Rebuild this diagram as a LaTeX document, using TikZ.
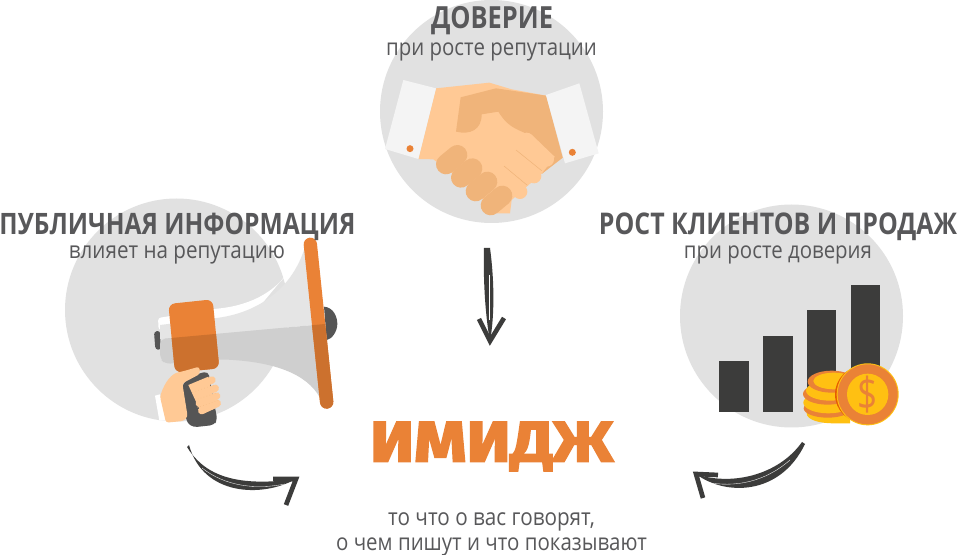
\documentclass[tikz,border=0pt]{standalone}
\usepackage{fontspec}
\setmainfont{Open Sans}
\newfontfamily\imgfont[BoldFeatures={FakeBold=3}]{Fira Sans}
\definecolor{disc}{HTML}{E1E1E1}
\definecolor{txt}{HTML}{58585A}
\definecolor{org}{HTML}{EA8236}
\definecolor{orgd}{HTML}{CC712E}
\definecolor{skin}{HTML}{FFC995}
\definecolor{skind}{HTML}{F0B47A}
\definecolor{cuff}{HTML}{F4F4F4}
\definecolor{ink}{HTML}{3C3C3B}
\definecolor{gold}{HTML}{FFC012}
\definecolor{burn}{HTML}{E65C00}
\definecolor{dgray}{HTML}{555555}
\tikzset{
 zoomed/.style={x=.25pt,y=-.25pt},
 head/.style={inner sep=0,anchor=base,text=txt,font=\bfseries},
 sub/.style={inner sep=0,anchor=base,text=txt},
 brush/.style={draw=ink,line join=miter,line cap=butt,line width=#1},
 brush/.default=3.5pt
}
\newcommand{\fitw}[2]{\scalebox{1}[1.2]{\resizebox{#1pt}{!}{#2}}}
\newcommand{\fits}[2]{\scalebox{1}[1.14]{\resizebox{#1pt}{!}{#2}}}
\begin{document}
\begin{tikzpicture}[x=.75pt,y=-.75pt]
\useasboundingbox (0,0) rectangle (957,555);
\fill[white] (0,0) rectangle (957,555);
% discs
\fill[disc] (491.5,111.5) circle[radius=111.5];
\fill[disc] (176.5,310) circle[radius=111.5];
\fill[disc] (791.5,316) circle[radius=111.5];
% handshake
\begin{scope}[shift={(370,0)},zoomed]
\fill[skin] (198,265) -- (358,248) -- (425,268) -- (528,287) -- (578,473) -- (510,525) -- (470,560) -- (425,600) -- (420,640) -- (380,640) -- (300,560) -- (190,478) -- (145,477) -- cycle;
\fill[skind] (272,292) -- (378,265) -- (528,287) -- (578,473) -- (515,522) -- (555,470) -- (475,403) .. controls (430,385) and (410,375) .. (385,335) -- (335,343) .. controls (335,390) and (300,405) .. (258,395) -- cycle;
\draw[skin,line width=11pt,line cap=round] (470,420) -- (530,478);
\draw[skin,line width=11pt,line cap=round] (430,470) -- (492,528);
\draw[skin,line width=11pt,line cap=round] (400,520) -- (450,575);
\draw[skind,line width=.4pt] (438,450) -- (515,512);
\draw[skind,line width=.4pt] (402,498) -- (472,556);
\draw[skind,line width=15pt,line cap=round] (228,493) -- (262,465);
\draw[skind,line width=15pt,line cap=round] (273,533) -- (307,505);
\draw[skind,line width=15pt,line cap=round] (317,574) -- (352,545);
\draw[skind,line width=15pt,line cap=round] (362,616) -- (397,587);
\fill[cuff] (100,240) -- (198,265) -- (145,477) -- (45,447) -- cycle;
\fill[cuff] (528,285) -- (628,250) -- (686,460) -- (585,490) -- cycle;
\fill[org] (120,446) circle[radius=10.5];
\fill[org] (607,457) circle[radius=10.5];
\end{scope}
% megaphone
\begin{scope}[shift={(140,230)},zoomed]
\fill[dgray] (552,230) .. controls (580,232) and (592,260) .. (592,282) .. controls (592,305) and (575,328) .. (560,330) -- cycle;
\fill[dgray,rounded corners=2pt] (42,305) -- (60,302) -- (62,360) -- (46,358) -- cycle;
\fill[white,rounded corners=2pt] (54,264) -- (222,237) .. controls (350,225) and (440,170) .. (490,45) -- (500,60) -- (300,300) -- (56,300) -- cycle;
\fill[black!10] (60,285) -- (222,265) .. controls (360,250) and (460,170) .. (495,50) -- (555,282) -- (60,327) -- cycle;
\fill[black!19,rounded corners=4pt] (60,327) -- (555,282) -- (578,520) -- (548,518) .. controls (500,430) and (400,395) .. (240,388) -- (75,402) -- (60,385) -- cycle;
\draw[org,line width=10pt,line cap=round] (511,43) -- (560,516);
\begin{scope}
\clip (0,332.5) -- (650,273.4) -- (650,700) -- (0,700) -- cycle;
\draw[orgd,line width=10pt,line cap=round] (511,43) -- (560,516);
\end{scope}
\fill[org,rounded corners=5pt] (85,222) -- (218,208) -- (238,415) -- (105,428) -- cycle;
\begin{scope}
\clip (0,332.5) -- (650,273.4) -- (650,700) -- (0,700) -- cycle;
\fill[orgd,rounded corners=5pt] (85,222) -- (218,208) -- (238,415) -- (105,428) -- cycle;
\end{scope}
% hand and grip
\fill[dgray,rounded corners=3pt] (127,460) -- (175,430) -- (205,425) -- (232,570) -- (222,585) -- (160,592) -- (140,578) -- cycle;
\fill[white] (45,497) -- (60,493) -- (78,572) -- (58,572) -- cycle;
\fill[skin,rounded corners=2pt] (60,500) .. controls (75,455) and (95,430) .. (125,425) -- (178,410) -- (180,432) -- (127,460) -- (143,560) -- (130,573) -- (78,578) -- cycle;
\fill[skin] (145,465) -- (205,440) -- (225,535) -- (185,552) -- cycle;
\draw[skin,line width=5.5pt,line cap=round] (165,472) -- (216,450);
\draw[skin,line width=5.5pt,line cap=round] (172,495) -- (226,475);
\draw[skin,line width=5.5pt,line cap=round] (178,520) -- (230,498);
\draw[skin,line width=5.5pt,line cap=round] (185,542) -- (232,520);
\draw[skind,line width=.3pt,dotted] (158,487) -- (228,462);
\draw[skind,line width=.3pt,dotted] (165,510) -- (235,487);
\draw[skind,line width=.3pt,dotted] (172,533) -- (240,510);
\end{scope}
% chart
\begin{scope}[shift={(700,270)},zoomed]
\fill[ink] (58,273) rectangle (146,426);
\fill[ink] (190,197) rectangle (278,426);
\fill[ink] (321,121) rectangle (409,426);
\fill[ink] (453,45) rectangle (541,426);
\fill[gold] (320,405) -- (320,430) .. controls (320,450) and (360,460) .. (400,460) -- (450,460) -- (450,400) -- cycle;
\fill[org] (383,415) ellipse[x radius=72,y radius=28];
\fill[gold] (385,398) ellipse[x radius=75,y radius=32];
\fill[org] (383,372) ellipse[x radius=74,y radius=32];
\fill[gold] (390,362) ellipse[x radius=72,y radius=30];
\fill[org] (395,335) ellipse[x radius=72,y radius=33];
\fill[gold] (402,333) ellipse[x radius=62,y radius=25];
\fill[burn] (490,373) circle[radius=85];
\fill[gold] (503,373) circle[radius=93];
\fill[org] (503,373) circle[radius=90];
\fill[gold] (503,373) circle[radius=62];
\node[inner sep=0,text=org,font=\fontsize{31}{31}\selectfont] (dollar) at (503,373) {\scalebox{.85}[1.1]{\$}};
\end{scope}
% texts
\node[head] (t1) at (492,28.5) {\fitw{91.5}{ДОВЕРИЕ}};
\node[sub] (s1) at (491.5,56) {\fits{158}{при росте репутации}};
\node[head] (t2) at (177.5,235) {\fitw{267}{ПУБЛИЧНАЯ ИНФОРМАЦИЯ}};
\node[sub] (s2) at (177,259) {\fits{162}{влияет на репутацию}};
\node[head] (t3) at (778,235) {\fitw{268.5}{РОСТ КЛИЕНТОВ И ПРОДАЖ}};
\node[sub] (s3) at (778,259) {\fits{141}{при росте доверия}};
\node[inner sep=0,text=org] (img) at (491.5,446.5) {\resizebox*{182.25pt}{36.75pt}{\imgfont\bfseries ИМИДЖ}};
\node[sub] (b1) at (491.5,525.5) {\fits{155}{то что о вас говорят,}};
\node[sub] (b2) at (491.5,550.5) {\fits{233}{о чем пишут и что показывают}};
% arrows
\coordinate (a1s) at (487,248); \coordinate (a1e) at (490,341);
\coordinate (a1l) at (479,319); \coordinate (a1r) at (504,318);
\coordinate (a2s) at (187,447); \coordinate (a2e) at (296,479);
\coordinate (a2l) at (273,479); \coordinate (a2r) at (286,505);
\coordinate (a3s) at (802,442); \coordinate (a3e) at (696,474);
\coordinate (a3l) at (718,475); \coordinate (a3r) at (703,498);
\fill[ink] (a1s) ++(-3,0) .. controls (483,285) and (486,320) .. (a1e) .. controls (494,320) and (495,285) .. (490,248) -- cycle;
\draw[white,line width=.3pt] (489,275) -- (489,320);
\fill[ink] (a2s) .. controls (203,473) and (232,488) .. (a2e) .. controls (262,498) and (203,496) .. (189,445) -- cycle;
\draw[white,line width=.25pt] (202,468) .. controls (225,486) and (255,490) .. (285,484);
\fill[ink] (a3s) .. controls (778,476) and (730,486) .. (a3e) .. controls (725,496) and (780,496) .. (805,444) -- cycle;
\draw[white,line width=.25pt] (790,460) .. controls (765,482) and (735,488) .. (705,482);
\draw[brush] (a1l) -- (a1e) -- (a1r);
\draw[brush] (a2l) -- (a2e) -- (a2r);
\draw[brush] (a3l) -- (a3e) -- (a3r);
\end{tikzpicture}
\end{document}
